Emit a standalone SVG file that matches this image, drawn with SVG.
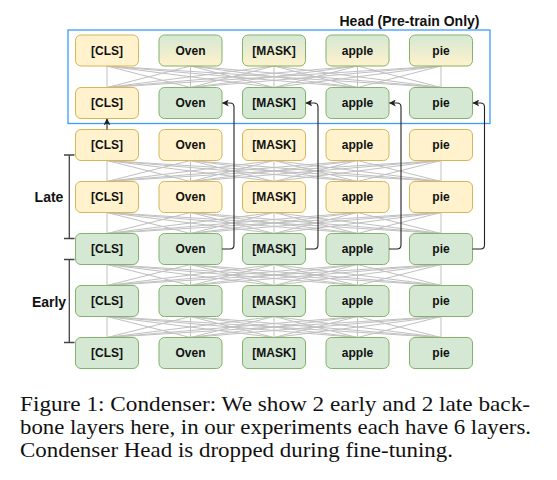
<svg xmlns="http://www.w3.org/2000/svg" width="557" height="480" viewBox="0 0 557 480">
<style>
.y{fill:#fff2cc;stroke:#d6b656;stroke-width:1}
.g{fill:#d5e8d4;stroke:#82b366;stroke-width:1}
.gy{fill:url(#gy);stroke:#82b366;stroke-width:1}
.t{font-family:"Liberation Sans",Arial,sans-serif;font-weight:bold;font-size:12px;fill:#111;text-anchor:middle}
.gl{stroke:#c0c0c0;stroke-width:1;fill:none}
.bk{stroke:#222;stroke-width:1.1;fill:none}
.br{stroke:#444;stroke-width:1.3;fill:none}
.lb{font-family:"Liberation Sans",Arial,sans-serif;font-weight:bold;font-size:14px;fill:#111;text-anchor:middle}
.cap{font-family:"Liberation Serif","Times New Roman",serif;font-size:21px;fill:#111}
</style>
<defs>
<linearGradient id="gy" x1="0" y1="0" x2="0" y2="1">
<stop offset="0" stop-color="#d5e8d4"/>
<stop offset="1" stop-color="#fff2cc"/>
</linearGradient>
<marker id="ah" viewBox="0 0 10 10" refX="9" refY="5" markerWidth="7" markerHeight="7" markerUnits="userSpaceOnUse" orient="auto">
<path d="M0,0 L10,5 L0,10 L2.5,5 Z" fill="#222"/>
</marker>
</defs>

<!-- gray full connections -->
<g id="dense-connections" class="gl">
<path d="M107,66L107,87.5M107,66L190.5,87.5M107,66L274,87.5M107,66L357.5,87.5M107,66L441,87.5
M190.5,66L107,87.5M190.5,66L190.5,87.5M190.5,66L274,87.5M190.5,66L357.5,87.5M190.5,66L441,87.5
M274,66L107,87.5M274,66L190.5,87.5M274,66L274,87.5M274,66L357.5,87.5M274,66L441,87.5
M357.5,66L107,87.5M357.5,66L190.5,87.5M357.5,66L274,87.5M357.5,66L357.5,87.5M357.5,66L441,87.5
M441,66L107,87.5M441,66L190.5,87.5M441,66L274,87.5M441,66L357.5,87.5M441,66L441,87.5"/>
<path d="M107,160.5L107,181.5M107,160.5L190.5,181.5M107,160.5L274,181.5M107,160.5L357.5,181.5M107,160.5L441,181.5
M190.5,160.5L107,181.5M190.5,160.5L190.5,181.5M190.5,160.5L274,181.5M190.5,160.5L357.5,181.5M190.5,160.5L441,181.5
M274,160.5L107,181.5M274,160.5L190.5,181.5M274,160.5L274,181.5M274,160.5L357.5,181.5M274,160.5L441,181.5
M357.5,160.5L107,181.5M357.5,160.5L190.5,181.5M357.5,160.5L274,181.5M357.5,160.5L357.5,181.5M357.5,160.5L441,181.5
M441,160.5L107,181.5M441,160.5L190.5,181.5M441,160.5L274,181.5M441,160.5L357.5,181.5M441,160.5L441,181.5"/>
<path d="M107,212.5L107,233.5M107,212.5L190.5,233.5M107,212.5L274,233.5M107,212.5L357.5,233.5M107,212.5L441,233.5
M190.5,212.5L107,233.5M190.5,212.5L190.5,233.5M190.5,212.5L274,233.5M190.5,212.5L357.5,233.5M190.5,212.5L441,233.5
M274,212.5L107,233.5M274,212.5L190.5,233.5M274,212.5L274,233.5M274,212.5L357.5,233.5M274,212.5L441,233.5
M357.5,212.5L107,233.5M357.5,212.5L190.5,233.5M357.5,212.5L274,233.5M357.5,212.5L357.5,233.5M357.5,212.5L441,233.5
M441,212.5L107,233.5M441,212.5L190.5,233.5M441,212.5L274,233.5M441,212.5L357.5,233.5M441,212.5L441,233.5"/>
<path d="M107,264.5L107,285.5M107,264.5L190.5,285.5M107,264.5L274,285.5M107,264.5L357.5,285.5M107,264.5L441,285.5
M190.5,264.5L107,285.5M190.5,264.5L190.5,285.5M190.5,264.5L274,285.5M190.5,264.5L357.5,285.5M190.5,264.5L441,285.5
M274,264.5L107,285.5M274,264.5L190.5,285.5M274,264.5L274,285.5M274,264.5L357.5,285.5M274,264.5L441,285.5
M357.5,264.5L107,285.5M357.5,264.5L190.5,285.5M357.5,264.5L274,285.5M357.5,264.5L357.5,285.5M357.5,264.5L441,285.5
M441,264.5L107,285.5M441,264.5L190.5,285.5M441,264.5L274,285.5M441,264.5L357.5,285.5M441,264.5L441,285.5"/>
<path d="M107,316.5L107,337.5M107,316.5L190.5,337.5M107,316.5L274,337.5M107,316.5L357.5,337.5M107,316.5L441,337.5
M190.5,316.5L107,337.5M190.5,316.5L190.5,337.5M190.5,316.5L274,337.5M190.5,316.5L357.5,337.5M190.5,316.5L441,337.5
M274,316.5L107,337.5M274,316.5L190.5,337.5M274,316.5L274,337.5M274,316.5L357.5,337.5M274,316.5L441,337.5
M357.5,316.5L107,337.5M357.5,316.5L190.5,337.5M357.5,316.5L274,337.5M357.5,316.5L357.5,337.5M357.5,316.5L441,337.5
M441,316.5L107,337.5M441,316.5L190.5,337.5M441,316.5L274,337.5M441,316.5L357.5,337.5M441,316.5L441,337.5"/>
</g>

<!-- head frame -->
<g id="head">
<rect x="68" y="30" width="422" height="93.5" fill="none" stroke="#3d9bff" stroke-width="1.3"/>
<text class="lb" x="409.5" y="26" font-size="14.5">Head (Pre-train Only)</text>
</g>

<g id="h2-cls"><rect class="y" x="75.5" y="35" width="63" height="31" rx="5.5"/><text class="t" x="107" y="54.8">[CLS]</text></g>
<g id="h2-oven"><rect class="gy" x="159" y="35" width="63" height="31" rx="5.5"/><text class="t" x="190.5" y="54.8">Oven</text></g>
<g id="h2-mask"><rect class="gy" x="242.5" y="35" width="63" height="31" rx="5.5"/><text class="t" x="274" y="54.8">[MASK]</text></g>
<g id="h2-apple"><rect class="gy" x="326" y="35" width="63" height="31" rx="5.5"/><text class="t" x="357.5" y="54.8">apple</text></g>
<g id="h2-pie"><rect class="gy" x="409.5" y="35" width="63" height="31" rx="5.5"/><text class="t" x="441" y="54.8">pie</text></g>

<g id="h1-cls"><rect class="y" x="75.5" y="87.5" width="63" height="31" rx="5.5"/><text class="t" x="107" y="107.3">[CLS]</text></g>
<g id="h1-oven"><rect class="g" x="159" y="87.5" width="63" height="31" rx="5.5"/><text class="t" x="190.5" y="107.3">Oven</text></g>
<g id="h1-mask"><rect class="g" x="242.5" y="87.5" width="63" height="31" rx="5.5"/><text class="t" x="274" y="107.3">[MASK]</text></g>
<g id="h1-apple"><rect class="g" x="326" y="87.5" width="63" height="31" rx="5.5"/><text class="t" x="357.5" y="107.3">apple</text></g>
<g id="h1-pie"><rect class="g" x="409.5" y="87.5" width="63" height="31" rx="5.5"/><text class="t" x="441" y="107.3">pie</text></g>

<g id="l2-cls"><rect class="y" x="75.5" y="129.5" width="63" height="31" rx="5.5"/><text class="t" x="107" y="149.3">[CLS]</text></g>
<g id="l2-oven"><rect class="y" x="159" y="129.5" width="63" height="31" rx="5.5"/><text class="t" x="190.5" y="149.3">Oven</text></g>
<g id="l2-mask"><rect class="y" x="242.5" y="129.5" width="63" height="31" rx="5.5"/><text class="t" x="274" y="149.3">[MASK]</text></g>
<g id="l2-apple"><rect class="y" x="326" y="129.5" width="63" height="31" rx="5.5"/><text class="t" x="357.5" y="149.3">apple</text></g>
<g id="l2-pie"><rect class="y" x="409.5" y="129.5" width="63" height="31" rx="5.5"/><text class="t" x="441" y="149.3">pie</text></g>

<g id="l1-cls"><rect class="y" x="75.5" y="181.5" width="63" height="31" rx="5.5"/><text class="t" x="107" y="201.3">[CLS]</text></g>
<g id="l1-oven"><rect class="y" x="159" y="181.5" width="63" height="31" rx="5.5"/><text class="t" x="190.5" y="201.3">Oven</text></g>
<g id="l1-mask"><rect class="y" x="242.5" y="181.5" width="63" height="31" rx="5.5"/><text class="t" x="274" y="201.3">[MASK]</text></g>
<g id="l1-apple"><rect class="y" x="326" y="181.5" width="63" height="31" rx="5.5"/><text class="t" x="357.5" y="201.3">apple</text></g>
<g id="l1-pie"><rect class="y" x="409.5" y="181.5" width="63" height="31" rx="5.5"/><text class="t" x="441" y="201.3">pie</text></g>

<g id="e3-cls"><rect class="g" x="75.5" y="233.5" width="63" height="31" rx="5.5"/><text class="t" x="107" y="253.3">[CLS]</text></g>
<g id="e3-oven"><rect class="g" x="159" y="233.5" width="63" height="31" rx="5.5"/><text class="t" x="190.5" y="253.3">Oven</text></g>
<g id="e3-mask"><rect class="g" x="242.5" y="233.5" width="63" height="31" rx="5.5"/><text class="t" x="274" y="253.3">[MASK]</text></g>
<g id="e3-apple"><rect class="g" x="326" y="233.5" width="63" height="31" rx="5.5"/><text class="t" x="357.5" y="253.3">apple</text></g>
<g id="e3-pie"><rect class="g" x="409.5" y="233.5" width="63" height="31" rx="5.5"/><text class="t" x="441" y="253.3">pie</text></g>

<g id="e2-cls"><rect class="g" x="75.5" y="285.5" width="63" height="31" rx="5.5"/><text class="t" x="107" y="305.3">[CLS]</text></g>
<g id="e2-oven"><rect class="g" x="159" y="285.5" width="63" height="31" rx="5.5"/><text class="t" x="190.5" y="305.3">Oven</text></g>
<g id="e2-mask"><rect class="g" x="242.5" y="285.5" width="63" height="31" rx="5.5"/><text class="t" x="274" y="305.3">[MASK]</text></g>
<g id="e2-apple"><rect class="g" x="326" y="285.5" width="63" height="31" rx="5.5"/><text class="t" x="357.5" y="305.3">apple</text></g>
<g id="e2-pie"><rect class="g" x="409.5" y="285.5" width="63" height="31" rx="5.5"/><text class="t" x="441" y="305.3">pie</text></g>

<g id="e1-cls"><rect class="g" x="75.5" y="337.5" width="63" height="31" rx="5.5"/><text class="t" x="107" y="357.3">[CLS]</text></g>
<g id="e1-oven"><rect class="g" x="159" y="337.5" width="63" height="31" rx="5.5"/><text class="t" x="190.5" y="357.3">Oven</text></g>
<g id="e1-mask"><rect class="g" x="242.5" y="337.5" width="63" height="31" rx="5.5"/><text class="t" x="274" y="357.3">[MASK]</text></g>
<g id="e1-apple"><rect class="g" x="326" y="337.5" width="63" height="31" rx="5.5"/><text class="t" x="357.5" y="357.3">apple</text></g>
<g id="e1-pie"><rect class="g" x="409.5" y="337.5" width="63" height="31" rx="5.5"/><text class="t" x="441" y="357.3">pie</text></g>

<!-- skip connections -->
<g id="connectors" class="bk">
<path d="M107,129.5 L107,119" marker-end="url(#ah)"/>
<path d="M222,249 L230,249 Q234,249 234,245 L234,107 Q234,103 230,103 L222.5,103" marker-end="url(#ah)"/>
<path d="M305.5,249 L314,249 Q318,249 318,245 L318,107 Q318,103 314,103 L306,103" marker-end="url(#ah)"/>
<path d="M389,249 L397,249 Q401,249 401,245 L401,107 Q401,103 397,103 L389.5,103" marker-end="url(#ah)"/>
<path d="M472.5,249 L480.5,249 Q484.5,249 484.5,245 L484.5,107 Q484.5,103 480.5,103 L473,103" marker-end="url(#ah)"/>
</g>

<!-- brackets -->
<g id="late-bracket">
<path class="br" d="M64,155 L74.5,155 M69.3,155 L69.3,238.5 M64,238.5 L74.5,238.5"/>
<text class="lb" x="49" y="202">Late</text>
</g>
<g id="early-bracket">
<path class="br" d="M64,259.5 L74.5,259.5 M69.3,259.5 L69.3,342.5 M64,342.5 L74.5,342.5"/>
<text class="lb" x="49" y="306.5">Early</text>
</g>

<!-- caption -->
<g id="caption" class="cap">
<text x="20" y="411" textLength="510" lengthAdjust="spacingAndGlyphs">Figure 1: Condenser: We show 2 early and 2 late back-</text>
<text x="20" y="434" textLength="511" lengthAdjust="spacingAndGlyphs">bone layers here, in our experiments each have 6 layers.</text>
<text x="20" y="457" textLength="433" lengthAdjust="spacingAndGlyphs">Condenser Head is dropped during fine-tuning.</text>
</g>
</svg>
